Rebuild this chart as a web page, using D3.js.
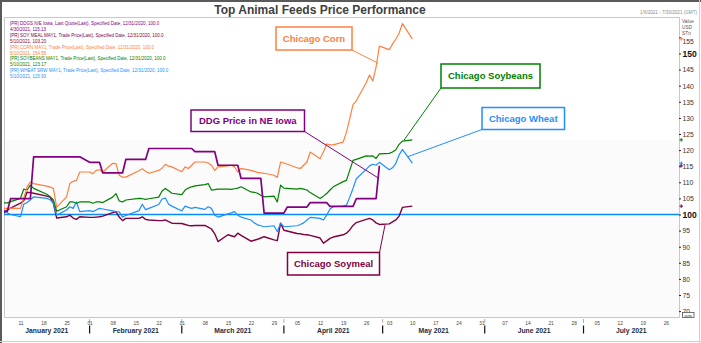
<!DOCTYPE html>
<html><head><meta charset="utf-8">
<script src="https://cdn.jsdelivr.net/npm/d3@7/dist/d3.min.js"></script>
<style>body{margin:0;background:#fff}svg{display:block}</style>
</head><body>
<svg id="c" width="701" height="343"></svg>
<script>
// ---------------- DATA ----------------
const tradeDates = [
 "2021-01-06","2021-01-07","2021-01-08","2021-01-11","2021-01-12","2021-01-13","2021-01-14","2021-01-15","2021-01-19","2021-01-20","2021-01-21","2021-01-22","2021-01-25","2021-01-26","2021-01-27","2021-01-28","2021-01-29",
 "2021-02-01","2021-02-02","2021-02-03","2021-02-04","2021-02-05","2021-02-08","2021-02-09","2021-02-10","2021-02-11","2021-02-12","2021-02-16","2021-02-17","2021-02-18","2021-02-19","2021-02-22","2021-02-23","2021-02-24","2021-02-25","2021-02-26",
 "2021-03-01","2021-03-02","2021-03-03","2021-03-04","2021-03-05","2021-03-08","2021-03-09","2021-03-10","2021-03-11","2021-03-12","2021-03-15","2021-03-16","2021-03-17","2021-03-18","2021-03-19","2021-03-22","2021-03-23","2021-03-24","2021-03-25","2021-03-26","2021-03-29","2021-03-30","2021-03-31",
 "2021-04-01","2021-04-05","2021-04-06","2021-04-07","2021-04-08","2021-04-09","2021-04-12","2021-04-13","2021-04-14","2021-04-15","2021-04-16","2021-04-19","2021-04-20","2021-04-21","2021-04-22","2021-04-23","2021-04-26","2021-04-27","2021-04-28","2021-04-29","2021-04-30",
 "2021-05-03","2021-05-04","2021-05-05","2021-05-06","2021-05-07","2021-05-10"];

const cornValues = [
 101.9,101.9,102.0,101.9,105.1,108.6,110.1,109.6,108.8,108.5,108.1,102.2,105.5,109.6,110.3,110.6,113.2,
 113.2,112.7,113.7,113.9,113.2,115.9,115.8,112.2,111.6,111.6,113.6,114.2,113.4,112.8,113.7,114.4,115.6,115.0,114.8,
 113.3,114.8,114.3,115.3,116.3,116.3,116.0,115.3,113.7,114.8,115.1,115.3,114.8,113.2,114.3,113.7,113.4,113.1,112.9,112.8,112.2,111.5,116.3,
 116.0,114.5,114.3,115.3,116.3,119.4,117.3,119.4,121.9,121.6,121.6,122.5,125.5,129.8,134.1,135.3,140.9,143.3,141.5,145.8,152.3,
 151.2,152.9,154.5,156.3,159.3,154.55];

const soybeanValues = [
 103.6,103.6,104.0,105.0,107.9,107.6,109.1,108.1,106.3,105.5,104.5,101.0,102.4,103.9,103.9,103.5,103.9,
 103.9,103.5,103.9,103.9,103.7,105.4,106.5,104.2,103.9,104.5,105.0,104.9,104.7,104.9,105.4,107.3,108.1,107.4,106.6,
 106.2,107.6,108.2,108.6,108.9,109.3,109.6,107.6,107.7,107.9,107.9,107.8,108.0,108.2,108.6,107.0,106.9,106.6,106.0,105.5,105.7,103.9,109.1,
 108.2,107.9,108.1,107.9,107.6,106.8,105.0,105.7,106.5,107.6,108.6,110.2,110.6,113.7,116.8,117.1,118.2,118.1,118.2,117.4,118.8,
 119.0,119.4,120.1,121.8,122.8,123.17];

const wheatValues = [
 101.4,100.5,100.0,99.3,103.2,103.7,104.5,105.5,105.0,104.6,103.5,99.8,101.4,102.4,101.9,103.9,100.9,
 101.2,100.9,101.4,101.9,101.7,101.1,100.9,100.8,99.2,99.7,101.2,103.2,101.5,101.9,103.1,104.8,105.1,103.2,102.6,
 101.1,102.6,102.2,101.9,102.2,101.6,102.4,101.9,99.8,99.2,100.2,100.5,100.9,99.8,99.2,98.3,97.4,96.8,96.5,96.2,96.5,94.7,97.3,
 96.2,96.5,96.9,97.4,98.3,99.1,98.8,98.3,99.8,101.7,102.4,102.6,102.9,105.4,108.1,111.1,114.0,115.1,115.6,115.3,116.2,
 113.9,114.5,115.9,118.5,120.2,115.93];

const soymealValues = [
 100.5,101.4,102.0,103.5,104.3,106.9,106.8,106.6,105.7,105.4,103.5,98.9,99.3,99.8,98.9,98.5,99.3,
 99.1,99.1,99.2,99.3,99.5,100.6,100.8,99.2,98.1,98.8,98.8,99.3,98.5,98.3,98.1,98.1,98.3,97.8,97.3,
 97.2,96.9,96.6,96.5,96.6,96.6,96.1,95.5,94.0,91.6,93.7,93.4,93.1,94.2,93.5,91.7,92.0,92.3,92.7,93.1,92.1,91.9,97.3,
 95.1,94.1,94.0,93.8,93.7,93.5,92.7,91.1,91.8,92.6,93.0,93.7,94.2,95.2,96.6,97.5,98.5,98.8,98.3,97.4,96.9,
 97.1,97.7,98.3,99.5,102.2,102.6];

const ddgsDates = ["2021-01-06","2021-01-07","2021-01-08","2021-01-14","2021-01-15","2021-01-29","2021-02-01","2021-02-04","2021-02-05","2021-02-11","2021-02-12","2021-02-18","2021-02-19","2021-03-04","2021-03-05","2021-03-11","2021-03-12","2021-03-18","2021-03-19","2021-03-25","2021-03-26","2021-04-01","2021-04-02","2021-04-08","2021-04-09","2021-04-14","2021-04-15","2021-04-22","2021-04-23","2021-04-29","2021-04-30"];
const ddgsValues = [101.0,101.0,104.9,104.9,117.9,117.9,116.2,116.2,112.9,112.9,117.1,117.1,120.5,120.5,119.5,119.5,115.3,115.3,111.2,111.2,100.4,100.4,102.3,102.3,103.7,103.7,102.5,102.5,104.9,104.9,115.13];

const baseValue = 100;
const yTickValues = [70,75,80,85,90,95,100,105,110,115,120,125,130,135,140,145,150,155];
const boldTicks = [100,150];
const monthLabels = ["January 2021","February 2021","March 2021","April 2021","May 2021","June 2021","July 2021"];
const legendLines = [
 "[PR] DDGS N/E Iowa, Last Quote(Last), Specified Date, 12/31/2020, 100.0",
 "4/30/2021, 115.13",
 "[PR] SOY MEAL MAY1, Trade Price(Last), Specified Date, 12/31/2020, 100.0",
 "5/10/2021, 103.20",
 "[PR] CORN MAY1, Trade Price(Last), Specified Date, 12/31/2020, 100.0",
 "5/10/2021, 154.55",
 "[PR] SOYBEANS MAY1, Trade Price(Last), Specified Date, 12/31/2020, 100.0",
 "5/10/2021, 123.17",
 "[PR] WHEAT SRW MAY1, Trade Price(Last), Specified Date, 12/31/2020, 100.0",
 "5/10/2021, 115.93"];
const annotationLabels = ["Chicago Corn","Chicago Soybeans","Chicago Wheat","DDG Price in NE Iowa","Chicago Soymeal"];
const titleText = "Top Animal Feeds Price Performance";
const rangeText = "1/6/2021 - 7/30/2021 (GMT)";
const axisUnitLines = ["Value","USD","STn"];

// ---------------- DRAW ----------------
const C = {corn:"#ff8040", soy:"#008000", wheat:"#1e8fff", meal:"#800040", ddgs:"#800080", base:"#0a8cf5"};
const parse = d3.timeParse("%Y-%m-%d");
const svg = d3.select("#c");
const P = {l:4, r:679, t:17, b:317};
const FONT = "Liberation Sans, Arial, sans-serif";

const x = d3.scaleTime().domain([new Date(2021,0,6), new Date(2021,6,30)]).range([P.l, P.r]);
const y = d3.scaleLinear().domain([70,155]).range([311.1, 37.4]);

// frame
svg.append("rect").attr("x",0).attr("y",0).attr("width",701).attr("height",343).attr("fill","#fff");
svg.append("rect").attr("x",P.l).attr("y",P.t).attr("width",P.r-P.l).attr("height",P.b-P.t).attr("fill","#fff");
svg.append("rect").attr("x",P.l).attr("y",140).attr("width",P.r-P.l).attr("height",P.b-140).attr("fill","#fbfbfb");
svg.append("path").attr("d",`M${P.l+0.5},${P.b+0.5}V${P.t+0.5}H${P.r+0.5}V${P.b+0.5}H${P.l+0.5}`).attr("fill","none").attr("stroke","#c8c8c8");
svg.append("rect").attr("x",0).attr("y",0).attr("width",701).attr("height",2).attr("fill","#5a5a5a");
svg.append("rect").attr("x",0).attr("y",0).attr("width",2).attr("height",343).attr("fill","#5a5a5a");
svg.append("line").attr("x1",0).attr("x2",701).attr("y1",341.5).attr("y2",341.5).attr("stroke","#d0d0d0");
svg.append("line").attr("x1",699.5).attr("x2",699.5).attr("y1",0).attr("y2",343).attr("stroke","#d0d0d0");

// title
svg.append("text").attr("x",320).attr("y",14).attr("text-anchor","middle")
 .attr("font-family",FONT).attr("font-weight","bold").attr("font-size",12)
 .attr("fill","#404040").text(titleText);
svg.append("text").attr("x",697).attr("y",13.5).attr("text-anchor","end")
 .attr("font-family",FONT).attr("font-size",4.6).attr("fill","#8a8a8a").text(rangeText);

// clip
svg.append("clipPath").attr("id","clip").append("rect").attr("x",P.l).attr("y",P.t).attr("width",P.r-P.l).attr("height",P.b-P.t);
const plot = svg.append("g").attr("clip-path","url(#clip)");

// baseline 100
plot.append("line").attr("x1",P.l).attr("x2",P.r).attr("y1",y(baseValue)).attr("y2",y(baseValue))
 .attr("stroke",C.base).attr("stroke-width",1.4);

const line = d3.line().x(d=>x(d[0])).y(d=>y(d[1]));
const td = tradeDates.map(parse);
const series = [
 {vals:soymealValues, dates:td, color:C.meal, w:1.4},
 {vals:wheatValues, dates:td, color:C.wheat, w:1.2},
 {vals:soybeanValues, dates:td, color:C.soy, w:1.2},
 {vals:cornValues, dates:td, color:C.corn, w:1.2},
 {vals:ddgsValues, dates:ddgsDates.map(parse), color:C.ddgs, w:1.7}
];
series.forEach(s=>{
 plot.append("path").datum(s.dates.map((d,i)=>[d,s.vals[i]]))
  .attr("d",line).attr("fill","none").attr("stroke",s.color).attr("stroke-width",s.w).attr("stroke-linejoin","round");
});

// right axis
const ax = svg.append("g").attr("transform",`translate(${P.r},0)`)
 .call(d3.axisRight(y).tickValues(yTickValues).tickSize(2).tickPadding(1.5));
ax.select(".domain").remove();
ax.selectAll(".tick line").attr("stroke","#222");
ax.selectAll(".tick text").attr("font-family",FONT)
 .attr("font-size",d=>boldTicks.includes(d)?8.5:6.8).attr("font-weight",d=>boldTicks.includes(d)?"bold":"normal")
 .attr("fill",d=>boldTicks.includes(d)?"#111":"#333")
 .attr("dy",d=>d===155?"0.85em":"0.34em");
// unit header
svg.append("g").selectAll("text").data(axisUnitLines).join("text")
 .attr("x",682).attr("y",(d,i)=>22.5+i*6.2).attr("font-family",FONT)
 .attr("font-size",4.8).attr("fill","#555").text(d=>d);
// auto box
svg.append("rect").attr("x",682.5).attr("y",312.5).attr("width",11.5).attr("height",5).attr("fill","#fff").attr("stroke","#555").attr("stroke-width",0.8);
svg.append("text").attr("x",688.2).attr("y",316.6).attr("text-anchor","middle").attr("font-family",FONT).attr("font-size",3.8).attr("fill","#333").text("auto");

// last value markers on axis
series.forEach(s=>{
 const v = s.vals[s.vals.length-1], yy = y(v);
 const g = svg.append("g").attr("stroke",s.color).attr("stroke-width",1);
 g.append("line").attr("x1",679.5).attr("x2",683).attr("y1",yy).attr("y2",yy);
 g.append("line").attr("x1",681.2).attr("x2",681.2).attr("y1",yy-1.8).attr("y2",yy+1.8);
});

// bottom axis: weekly ticks
const bx = svg.append("g").attr("transform",`translate(0,${P.b})`)
 .call(d3.axisBottom(x).ticks(d3.timeMonday.every(1)).tickFormat(d3.timeFormat("%d")).tickSize(0).tickPadding(4.5));
bx.select(".domain").remove();
bx.selectAll(".tick text").attr("font-family",FONT).attr("font-size",4.8).attr("fill","#444");

// month labels and separators
const months = d3.timeMonth.range(new Date(2021,0,1), new Date(2021,7,1));
months.forEach((m,i)=>{
 const a = Math.max(x(m), P.l), b = Math.min(x(d3.timeMonth.offset(m,1)), P.r);
 svg.append("text").attr("x",(a+b)/2).attr("y",332.5).attr("text-anchor","middle")
  .attr("font-family",FONT).attr("font-weight","bold").attr("font-size",6.8)
  .attr("fill","#1d2a48").text(monthLabels[i]);
 if (x(m) > P.l) {
  svg.append("line").attr("x1",x(m)).attr("x2",x(m)).attr("y1",325.5).attr("y2",333.5).attr("stroke","#111").attr("stroke-width",1.2);
  svg.append("line").attr("x1",x(m)).attr("x2",x(m)).attr("y1",319.5).attr("y2",323).attr("stroke","#333").attr("stroke-width",0.8).attr("stroke-dasharray","1,1");
 }
});

// legend text
const legendColors = [C.ddgs,C.ddgs,C.meal,C.meal,C.corn,C.corn,C.soy,C.soy,C.wheat,C.wheat];
const lg = svg.append("g");
lg.selectAll("text").data(legendLines).join("text")
 .attr("x",10).attr("y",(d,i)=>25+i*5.9)
 .attr("font-family",FONT).attr("font-size",5.3)
 .attr("fill",(d,i)=>legendColors[i]).text(d=>d)
 .each(function(){ const L=this.getComputedTextLength(); d3.select(this).attr("textLength",L*0.85).attr("lengthAdjust","spacingAndGlyphs"); });

// annotations
const ann = [
 {t:annotationLabels[0], c:C.corn, bx:276, by:27, bw:76, bh:23, ax:352, ay:50, td:new Date(2021,3,29,14), tv:147},
 {t:annotationLabels[1], c:C.soy, bx:441, by:64, bw:99, bh:24, ax:441, ay:88, td:new Date(2021,4,7,12), tv:123.1},
 {t:annotationLabels[2], c:C.wheat, bx:482, by:107.5, bw:82.5, bh:22, ax:482, ay:129.5, td:new Date(2021,4,8,12), tv:117.9},
 {t:annotationLabels[3], c:C.ddgs, bx:191, by:110, bw:113.5, bh:21.5, ax:304.5, ay:131.5, td:new Date(2021,3,29,21), tv:111.2},
 {t:annotationLabels[4], c:C.meal, bx:287.5, by:252.5, bw:92, bh:22.5, ax:379.5, ay:252.5, td:new Date(2021,4,1,17), tv:96.7}
];
ann.forEach(a=>{
 svg.append("line").attr("x1",a.ax).attr("y1",a.ay).attr("x2",x(a.td)).attr("y2",y(a.tv)).attr("stroke",a.c).attr("stroke-width",1);
 svg.append("rect").attr("x",a.bx).attr("y",a.by).attr("width",a.bw).attr("height",a.bh).attr("fill","#fff").attr("stroke",a.c).attr("stroke-width",1.5);
 svg.append("text").attr("x",a.bx+a.bw/2).attr("y",a.by+a.bh/2+3.4).attr("text-anchor","middle")
  .attr("font-family",FONT).attr("font-weight","bold").attr("font-size",9.5).attr("fill",a.c).text(a.t);
});
</script>
</body></html>
